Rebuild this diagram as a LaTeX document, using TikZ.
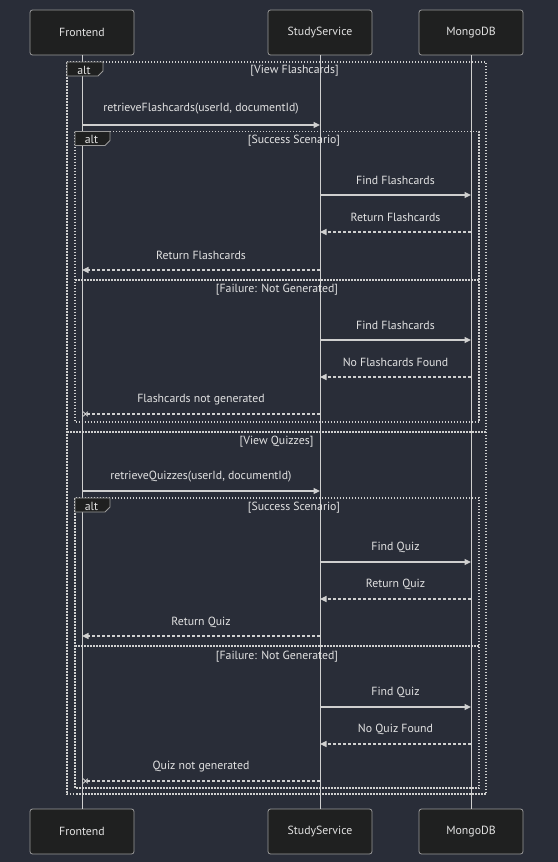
\documentclass[tikz,border=0pt]{standalone}
\usepackage{fontspec}
\setmainfont{PT Sans}
\usetikzlibrary{arrows.meta}
\definecolor{bg}{HTML}{292D38}
\definecolor{boxfill}{HTML}{1F2020}
\definecolor{boxline}{HTML}{9A9A9A}
\definecolor{txt}{HTML}{E2E2E2}
\definecolor{ln}{HTML}{CFCFCF}
\tikzset{
  x=1bp, y=-1bp,
  actor/.style={draw=boxline, fill=boxfill, rounded corners=2.5bp, line width=0.8bp,
    minimum width=104bp, minimum height=45bp, inner sep=0pt, text=txt,
    font=\fontsize{11.8bp}{13bp}\selectfont},
  lifeline/.style={draw=ln, line width=1bp},
  msgtxt/.style={text=txt, inner sep=0pt, font=\fontsize{11.8bp}{13bp}\selectfont},
  msg/.style={draw=ln, line width=1.3bp, -{Triangle[length=6.5bp,width=6bp]}},
  reply/.style={draw=ln, line width=1.2bp, dash pattern=on 3bp off 2bp, -{Triangle[length=6.5bp,width=6bp]}},
  lost/.style={draw=ln, line width=1.2bp, dash pattern=on 3bp off 2bp},
  frame/.style={draw=ln, line width=1.3bp, dash pattern=on 1.5bp off 1.5bp},
  tab/.style={draw=boxline, fill=boxfill, line width=0.8bp},
  tabtxt/.style={text=txt, inner sep=0pt, font=\fontsize{11.8bp}{13bp}\selectfont},
}
\begin{document}
\begin{tikzpicture}
\fill[bg] (0,0) rectangle (558,862);
\useasboundingbox (0,0) rectangle (558,862);

% actors
\node[actor] (fe) at (82,32.5) {Frontend};
\node[actor] (ss) at (320,32.5) {StudyService};
\node[actor] (mg) at (471,32.5) {MongoDB};
\node[actor] (feb) at (82,831.5) {Frontend};
\node[actor] (ssb) at (320,831.5) {StudyService};
\node[actor] (mgb) at (471,831.5) {MongoDB};

% lifelines
\draw[lifeline] (fe.south) -- (feb.north);
\draw[lifeline] (ss.south) -- (ssb.north);
\draw[lifeline] (mg.south) -- (mgb.north);

% outer alt frame
\draw[frame] (67,62) rectangle (486,794);
\draw[frame] (67,432) -- (486,432);
\draw[tab] (67,62) -- (103,62) -- (103,71) -- (98,76) -- (67,76) -- cycle;
\node[tabtxt] (t1) at (84,70) {alt};
\node[msgtxt] (g1) at (294.5,71) {[View Flashcards]};
\node[msgtxt] (g2) at (276.5,442) {[View Quizzes]};

% inner alt frame 1
\draw[frame] (75,131.5) rectangle (479,422);
\draw[frame] (75,280) -- (479,280);
\draw[tab] (75,131.5) -- (110,131.5) -- (110,140.5) -- (105,145.5) -- (75,145.5) -- cycle;
\node[tabtxt] (t2) at (91.5,139.5) {alt};
\node[msgtxt] (g3) at (294,141) {[Success Scenario]};
\node[msgtxt] (g4) at (277,290) {[Failure: Not Generated]};

% inner alt frame 2
\draw[frame] (75,498) rectangle (479,788);
\draw[frame] (75,646) -- (479,646);
\draw[tab] (75,498) -- (110,498) -- (110,507) -- (105,512) -- (75,512) -- cycle;
\node[tabtxt] (t3) at (91.5,506) {alt};
\node[msgtxt] (g5) at (294,508) {[Success Scenario]};
\node[msgtxt] (g6) at (277,657) {[Failure: Not Generated]};

% messages, flashcards
\node[msgtxt] (l1) at (201,109) {retrieveFlashcards(userId, documentId)};
\draw[msg] (fe.south |- 0,125) -- (ss.south |- 0,125);
\node[msgtxt] (l2) at (395.5,180) {Find Flashcards};
\draw[msg] (ss.south |- 0,195) -- (mg.south |- 0,195);
\node[msgtxt] (l3) at (395.5,217) {Return Flashcards};
\draw[reply] (mg.south |- 0,232) -- (ss.south |- 0,232);
\node[msgtxt] (l4) at (201,255) {Return Flashcards};
\draw[reply] (ss.south |- 0,270) -- (fe.south |- 0,270);
\node[msgtxt] (l5) at (395.5,325) {Find Flashcards};
\draw[msg] (ss.south |- 0,340) -- (mg.south |- 0,340);
\node[msgtxt] (l6) at (395.5,362) {No Flashcards Found};
\draw[reply] (mg.south |- 0,377) -- (ss.south |- 0,377);
\node[msgtxt] (l7) at (201,400) {Flashcards not generated};
\coordinate (x1) at (85.5,414);
\draw[lost] (ss.south |- 0,414) -- (x1);
\draw[ln, line width=1bp] (x1) ++(-2.3,-2.3) -- ++(4.6,4.6) (x1) ++(-2.3,2.3) -- ++(4.6,-4.6);

% messages, quizzes
\node[msgtxt] (l8) at (201,477) {retrieveQuizzes(userId, documentId)};
\draw[msg] (fe.south |- 0,491) -- (ss.south |- 0,491);
\node[msgtxt] (l9) at (395.5,547) {Find Quiz};
\draw[msg] (ss.south |- 0,562) -- (mg.south |- 0,562);
\node[msgtxt] (l10) at (395.5,584) {Return Quiz};
\draw[reply] (mg.south |- 0,599) -- (ss.south |- 0,599);
\node[msgtxt] (l11) at (201,622) {Return Quiz};
\draw[reply] (ss.south |- 0,636) -- (fe.south |- 0,636);
\node[msgtxt] (l12) at (395.5,692) {Find Quiz};
\draw[msg] (ss.south |- 0,707) -- (mg.south |- 0,707);
\node[msgtxt] (l13) at (395.5,729) {No Quiz Found};
\draw[reply] (mg.south |- 0,744) -- (ss.south |- 0,744);
\node[msgtxt] (l14) at (201,767) {Quiz not generated};
\coordinate (x2) at (85.5,781);
\draw[lost] (ss.south |- 0,781) -- (x2);
\draw[ln, line width=1bp] (x2) ++(-2.3,-2.3) -- ++(4.6,4.6) (x2) ++(-2.3,2.3) -- ++(4.6,-4.6);
\end{tikzpicture}
\end{document}
